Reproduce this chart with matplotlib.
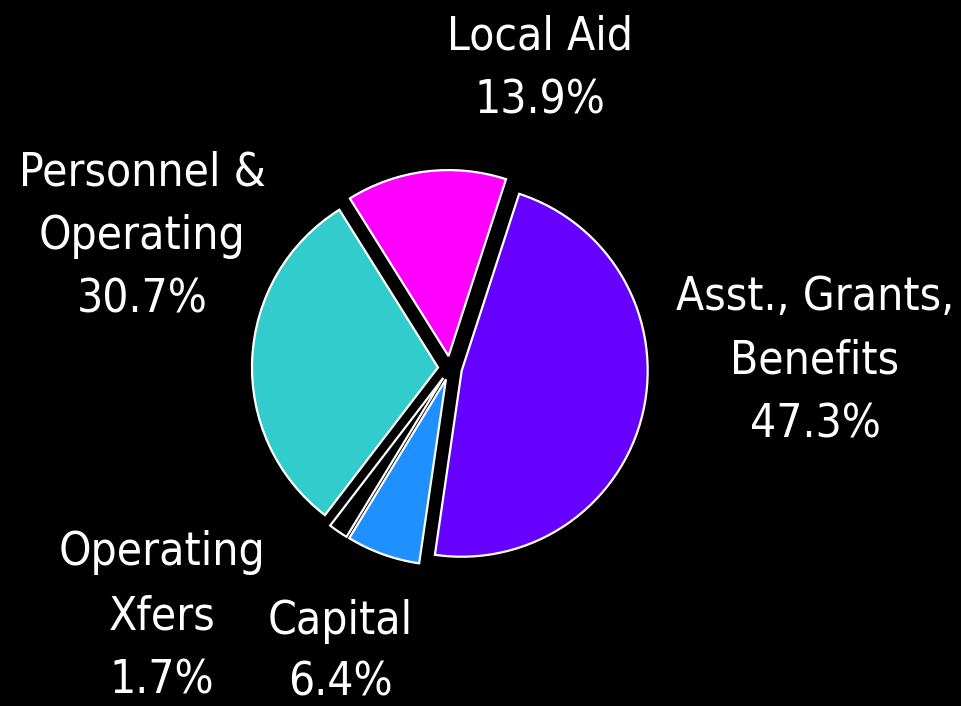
import matplotlib
matplotlib.use("Agg")
import matplotlib.pyplot as plt
from matplotlib import font_manager
from matplotlib.font_manager import FontProperties

categories = ["Asst., Grants,\nBenefits", "Capital", "Operating\nXfers", "Personnel &\nOperating", "Local Aid"]
values = [47.3, 6.4, 1.7, 30.7, 13.9]
pct_labels = ["47.3%", "6.4%", "1.7%", "30.7%", "13.9%"]
colors = ["#6600FF", "#1E90FF", "#000000", "#33CCCC", "#FF00FF"]

entries = font_manager.fontManager.ttflist
names = {f.name for f in entries}


def is_cond(f):
    s = f.stretch
    if isinstance(s, str):
        return "condensed" in s
    return s < 500


if "Liberation Sans Narrow" in names:
    fp = FontProperties(family="Liberation Sans Narrow")
elif any(f.name == "DejaVu Sans" and is_cond(f) for f in entries):
    fp = FontProperties(family="DejaVu Sans", stretch="condensed")
elif "Roboto Condensed" in names:
    fp = FontProperties(family="Roboto Condensed")
elif any(f.name == "Roboto" and is_cond(f) for f in entries):
    fp = FontProperties(family="Roboto", stretch="condensed")
else:
    fp = FontProperties(family="Roboto")
fp.set_size(33)

W, H = 962, 706
fig = plt.figure(figsize=(W / 100, H / 100), dpi=100, facecolor="black")
ax = fig.add_axes([0, 0, 1, 1])
ax.set_facecolor("black")

ax.pie(values, colors=colors, startangle=72, counterclock=False,
       explode=[12] * len(values), center=(450, H - 368), radius=186,
       wedgeprops=dict(edgecolor="white", linewidth=1.6), frame=True)
ax.set_xlim(0, W)
ax.set_ylim(0, H)
ax.set_aspect("equal")
ax.axis("off")

# label anchor: (center x, first-line baseline y in image px, line spacing)
anchors = [(815, 310, 64), (340, 634, 62), (162, 565, 64), (142, 185, 64), (540, 49, 64)]
for cat, pct, (x, y0, spacing) in zip(categories, pct_labels, anchors):
    lines = cat.split("\n") + [pct]
    for i, ln in enumerate(lines):
        ax.text(x, H - (y0 + i * spacing), ln, ha="center", va="baseline",
                color="white", fontproperties=fp)

fig.savefig("out.png", dpi=100, facecolor="black")
